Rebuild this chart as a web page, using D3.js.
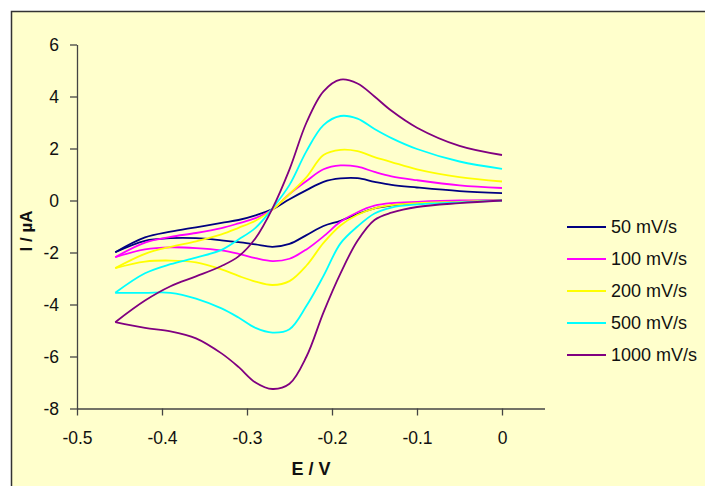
<!DOCTYPE html>
<html>
<head>
  <meta charset='utf-8'>
  <title>cyclic voltammograms</title>
  <script src="https://cdn.jsdelivr.net/npm/d3@7"></script>
  <style>
    html, body {
      margin: 0;
      padding: 0;
      background: #fff;
    }
    svg text {
      font-family: "Liberation Sans", Arial, sans-serif;
      fill: #111;
    }
  </style>
</head>
<body>
<svg id="chart" width="705" height="486"></svg>
<script>
// potential grid (V), same for both branches
var potentials = [0, -0.05, -0.1, -0.13, -0.15, -0.17, -0.19, -0.21, -0.23, -0.25, -0.27, -0.29, -0.31, -0.33, -0.36, -0.39, -0.42, -0.455];

var scanRates = ['50 mV/s', '100 mV/s', '200 mV/s', '500 mV/s', '1000 mV/s'];
var colors = ['#000080', '#ff00ff', '#ffff00', '#00ffff', '#800080'];

// cathodic (lower) branch, current in uA
var lower50 = [0, -0.03, -0.1, -0.19, -0.3, -0.52, -0.78, -0.98, -1.33, -1.67, -1.78, -1.69, -1.6, -1.53, -1.45, -1.45, -1.55, -1.99];
var lower100 = [0, 0, -0.05, -0.1, -0.2, -0.45, -0.82, -1.38, -1.88, -2.24, -2.33, -2.22, -2.05, -1.92, -1.83, -1.8, -1.88, -2.18];
var lower200 = [0, -0.05, -0.1, -0.18, -0.3, -0.55, -0.96, -1.63, -2.5, -3.1, -3.25, -3.12, -2.9, -2.65, -2.38, -2.31, -2.35, -2.6];
var lower500 = [0, -0.07, -0.15, -0.27, -0.5, -1.0, -1.65, -2.9, -4.05, -4.95, -5.08, -4.9, -4.5, -4.15, -3.77, -3.55, -3.55, -3.55];
var lower1000 = [0, -0.1, -0.25, -0.47, -0.75, -1.55, -2.8, -4.3, -6.0, -7.05, -7.25, -7.0, -6.4, -5.88, -5.3, -5.03, -4.9, -4.68];

// anodic (upper) branch, current in uA
var upper50 = [0.28, 0.36, 0.5, 0.6, 0.72, 0.86, 0.85, 0.72, 0.4, 0.05, -0.33, -0.57, -0.75, -0.86, -1.03, -1.2, -1.42, -1.99];
var upper100 = [0.48, 0.58, 0.78, 0.93, 1.1, 1.3, 1.35, 1.2, 0.75, 0.25, -0.35, -0.68, -0.88, -1.06, -1.25, -1.4, -1.62, -2.18];
var upper200 = [0.73, 0.9, 1.2, 1.48, 1.67, 1.9, 1.95, 1.75, 0.9, 0.25, -0.35, -0.78, -1.05, -1.3, -1.57, -1.78, -2.05, -2.6];
var upper500 = [1.22, 1.5, 1.98, 2.4, 2.75, 3.15, 3.25, 2.9, 1.9, 0.6, -0.3, -1.05, -1.5, -1.9, -2.2, -2.45, -2.8, -3.55];
var upper1000 = [1.75, 2.1, 2.8, 3.45, 4.0, 4.5, 4.65, 4.2, 3.0, 1.2, -0.3, -1.45, -2.15, -2.52, -2.92, -3.3, -3.85, -4.68];

var xTicks = [-0.5, -0.4, -0.3, -0.2, -0.1, 0];
var yTicks = [-8, -6, -4, -2, 0, 2, 4, 6];

var lowers = [lower50, lower100, lower200, lower500, lower1000];
var uppers = [upper50, upper100, upper200, upper500, upper1000];

var svg = d3.select('#chart');

// chart area (clipped by the picture on the right and bottom)
svg.append('rect')
  .attr('x', 11.5).attr('y', 11.5)
  .attr('width', 720).attr('height', 500)
  .attr('fill', '#ffffcc')
  .attr('stroke', '#333')
  .attr('stroke-width', 1.5);

var x = d3.scaleLinear().domain([-0.5, 0.05]).range([77, 544.5]);
var y = d3.scaleLinear().domain([-8, 6]).range([408.5, 44.5]);

// plain hyphen for negatives, like the original
var plain = function (d) { return String(d); };

var xAxis = svg.append('g')
  .attr('transform', 'translate(0,408.5)')
  .call(d3.axisBottom(x).tickValues(xTicks).tickFormat(plain).tickSize(7).tickSizeOuter(0).tickPadding(16));

var yAxis = svg.append('g')
  .attr('transform', 'translate(77,0)')
  .call(d3.axisLeft(y).tickValues(yTicks).tickFormat(plain).tickSize(7).tickSizeOuter(0).tickPadding(11));

[xAxis, yAxis].forEach(function (a) {
  a.selectAll('path, line').attr('stroke', '#444').attr('stroke-width', 1.3);
  a.selectAll('text').attr('font-size', 17.5).attr('fill', '#111')
    .style('font-family', '"Liberation Sans", Arial, sans-serif');
});

var line = d3.line()
  .x(function (d) { return x(d[0]); })
  .y(function (d) { return y(d[1]); })
  .curve(d3.curveCatmullRom.alpha(0.5));

scanRates.forEach(function (name, i) {
  var g = svg.append('g');
  [lowers[i], uppers[i]].forEach(function (branch) {
    g.append('path')
      .attr('d', line(potentials.map(function (e, j) { return [e, branch[j]]; })))
      .attr('fill', 'none')
      .attr('stroke', colors[i])
      .attr('stroke-width', 1.8)
      .attr('stroke-linejoin', 'round');
  });
});

// axis titles
svg.append('text')
  .attr('x', 311).attr('y', 475)
  .attr('text-anchor', 'middle')
  .attr('font-size', 18).attr('font-weight', 'bold')
  .text('E / V');

svg.append('text')
  .attr('transform', 'translate(32,231) rotate(-90)')
  .attr('text-anchor', 'middle')
  .attr('font-size', 17).attr('font-weight', 'bold')
  .text('I / µA');

// legend
var legend = svg.append('g');
scanRates.forEach(function (name, i) {
  var ly = 227 + i * 32;
  legend.append('line')
    .attr('x1', 567).attr('x2', 606)
    .attr('y1', ly).attr('y2', ly)
    .attr('stroke', colors[i]).attr('stroke-width', 1.8);
  legend.append('text')
    .attr('x', 611).attr('y', ly)
    .attr('dy', '0.36em')
    .attr('font-size', 18)
    .text(name);
});
</script>
</body>
</html>
